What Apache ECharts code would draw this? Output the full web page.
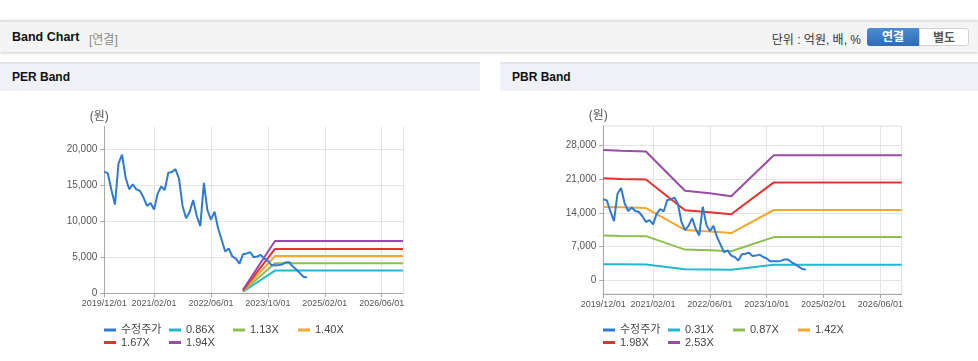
<!DOCTYPE html>
<html><head><meta charset="utf-8">
<script src="https://cdn.jsdelivr.net/npm/echarts@6/dist/echarts.min.js"></script>
<style>
html,body{margin:0;padding:0;background:#fff;width:978px;height:361px;overflow:hidden;font-family:'Liberation Sans','Noto Sans CJK KR',sans-serif;}
#hdr{position:absolute;left:0;top:20px;width:978px;height:30px;background:#f4f4f4;border-top:2px solid #e4e4e4;box-shadow:0 1px 3px rgba(0,0,0,0.22);}
#hdr span{position:absolute;white-space:nowrap;}
.t1{left:12px;top:8px;font-size:12.5px;font-weight:bold;color:#111;}
.t2{left:89px;top:8px;font-size:12px;color:#8a8a8a;}
.unit{right:117px;top:8px;font-size:12px;color:#333;}
.btn{top:6px;height:18px;line-height:18px;text-align:center;font-size:12px;font-weight:bold;box-sizing:border-box;}
.on{left:867px;width:52px;background:linear-gradient(#4c8cd4,#2c6bb5);color:#fff;border-radius:3px 0 0 3px;}
.off{left:919px;width:50px;background:#fff;color:#555;border:1px solid #d2d2d2;border-radius:0 3px 3px 0;}
.panel{position:absolute;top:62px;height:27px;line-height:27px;border-top:2px solid #e1e5ea;background:#eef2f7;font-size:12px;font-weight:bold;color:#111;box-sizing:content-box;}
.panel span{padding-left:12px;}
#chart{position:absolute;left:0;top:0;width:978px;height:361px;z-index:2;}
</style>
</head><body>
<div id="hdr">
  <span class="t1">Band Chart</span><span class="t2">[연결]</span>
  <span class="unit">단위 : 억원, 배, %</span>
  <span class="btn on">연결</span><span class="btn off">별도</span>
</div>
<div class="panel" style="left:0;width:480px"><span>PER Band</span></div>
<div class="panel" style="left:500px;width:478px"><span>PBR Band</span></div>
<div id="chart"></div>
<script>
// ---- data ----
const startYear = 2019, startMonth = 12, monthCount = 85; // 2019/12 .. 2026/12
const categories = [];
for (let i = 0, y = startYear, m = startMonth; i < monthCount; i++) {
  categories.push(y + '/' + String(m).padStart(2, '0') + '/01');
  m++; if (m > 12) { m = 1; y++; }
}
const xTickLabels = ['2019/12/01', '2021/02/01', '2022/06/01', '2023/10/01', '2025/02/01', '2026/06/01'];
const perYTicks = [0, 5000, 10000, 15000, 20000];
const pbrYTicks = [0, 7000, 14000, 21000, 28000];

// 수정주가 (monthly, from 2019/12)
const price = [16850,16600,14300,12300,18000,19200,16000,14400,15100,14400,14200,13300,12100,12500,11600,13800,14800,14300,16700,16800,17200,15900,12100,10400,11300,12900,10700,9300,15300,11500,10200,11300,9000,7400,5800,6200,5100,4800,4100,5400,5500,5700,5000,5100,5300,4800,4500,3900,3900,3900,4000,4300,4300,3700,3300,2800,2300,2200];

// PER band vertices
const perBandDates = ['2023/03/01', '2023/12/01', '2026/12/01'];
const per086 = [220, 3150, 3150];
const per113 = [280, 4170, 4170];
const per140 = [350, 5150, 5150];
const per167 = [420, 6150, 6150];
const per194 = [490, 7250, 7250];

// PBR band vertices
const pbrBandDates = ['2019/12/01', '2020/05/01', '2020/12/01', '2021/11/01', '2022/06/01', '2022/12/01', '2023/12/01', '2026/12/01'];
const pbr031 = [3300, 3280, 3250, 2250, 2200, 2150, 3180, 3180];
const pbr087 = [9300, 9200, 9150, 6350, 6200, 6000, 8950, 8950];
const pbr142 = [15250, 15150, 15000, 10450, 10100, 9800, 14600, 14600];
const pbr198 = [21200, 21050, 20950, 14550, 14150, 13700, 20350, 20350];
const pbr253 = [27100, 26950, 26800, 18600, 18100, 17450, 26000, 26000];

// ---- chart ----
const FONT = "'Liberation Sans','Noto Sans CJK KR',sans-serif";
const C = { price: '#2f7ad3', a: '#22b8d0', b: '#8cbf4e', c: '#f8a62d', d: '#e2342c', e: '#9a4ba7' };
const zip = (dates, vals) => dates.map((d, i) => [d, vals[i]]);
const isLbl = (i, v) => xTickLabels.indexOf(v) >= 0;

function xAx(gi) {
  return {
    type: 'category', gridIndex: gi, data: categories, boundaryGap: false,
    axisLine: { onZero: false, lineStyle: { color: '#a8a8a8', width: 1 } },
    axisTick: { show: true, length: 4, interval: isLbl, lineStyle: { color: '#a8a8a8' } },
    axisLabel: { interval: isLbl, fontSize: 9, color: '#555', margin: 6, fontFamily: FONT },
    splitLine: { show: true, interval: (i, v) => isLbl(i, v) || i === categories.length - 1, lineStyle: { color: '#e4e4e4', width: 1 } }
  };
}
function yAx(gi, min, max, ticks) {
  return {
    type: 'value', gridIndex: gi, min: min, max: max,
    name: '(원)', nameLocation: 'end', nameGap: 4,
    nameTextStyle: { color: '#555', fontSize: 12, align: 'center', padding: [0, 10, 0, 0], fontFamily: FONT },
    axisLine: { show: true, lineStyle: { color: '#a8a8a8' } },
    axisTick: { show: true, length: 4, customValues: ticks, lineStyle: { color: '#a8a8a8' } },
    axisLabel: { customValues: ticks, fontSize: 10, color: '#555', margin: 7, fontFamily: FONT,
      formatter: v => Number(v).toLocaleString('en-US') },
    splitLine: { show: true, lineStyle: { color: '#e4e4e4', width: 1 } }
  };
}
function ln(name, gi, data, color, z) {
  return { name: name, type: 'line', xAxisIndex: gi, yAxisIndex: gi, data: data,
    symbol: 'none', showSymbol: false, connectNulls: true, silent: true,
    lineStyle: { color: color, width: 2 }, itemStyle: { color: color }, z: z };
}
function lg(name, left, top) {
  return { data: [name], left: left, top: top, padding: 0, itemGap: 0, icon: 'rect',
    itemWidth: 12, itemHeight: 3, selectedMode: false,
    textStyle: { fontSize: 11, color: '#444', fontFamily: FONT, lineHeight: 13 } };
}

const option = {
  animation: false,
  backgroundColor: 'transparent',
  textStyle: { fontFamily: FONT },
  grid: [
    { left: 104.3, top: 126.5, width: 298.7, height: 166.8, containLabel: false, outerBoundsMode: 'none' },
    { left: 603.3, top: 126, width: 298.4, height: 168, containLabel: false, outerBoundsMode: 'none',
      show: true, borderColor: '#dcdcdc', borderWidth: 1, backgroundColor: 'transparent' }
  ],
  xAxis: [xAx(0), xAx(1)],
  yAxis: [yAx(0, 0, 23100, perYTicks), yAx(1, -2900, 32100, pbrYTicks)],
  legend: [
    lg('수정주가', 104, 323.5), lg('0.86X', 169, 323.5), lg('1.13X', 233, 323.5), lg('1.40X', 298, 323.5),
    lg('1.67X', 104, 336), lg('1.94X', 169, 336),
    lg('0.31X', 668, 323.5), lg('0.87X', 733, 323.5), lg('1.42X', 798, 323.5),
    lg('1.98X', 603, 336), lg('2.53X', 668, 336),
    { data: ['수정주가'], left: 603, top: 323.5, padding: 0, icon: 'rect', itemWidth: 12, itemHeight: 3, selectedMode: false,
      textStyle: { fontSize: 11, color: '#444', fontFamily: FONT, lineHeight: 13 } }
  ],
  series: [
    ln('0.86X', 0, zip(perBandDates, per086), C.a, 2),
    ln('1.13X', 0, zip(perBandDates, per113), C.b, 2),
    ln('1.40X', 0, zip(perBandDates, per140), C.c, 2),
    ln('1.67X', 0, zip(perBandDates, per167), C.d, 2),
    ln('1.94X', 0, zip(perBandDates, per194), C.e, 2),
    ln('수정주가', 0, price, C.price, 3),
    ln('0.31X', 1, zip(pbrBandDates, pbr031), C.a, 2),
    ln('0.87X', 1, zip(pbrBandDates, pbr087), C.b, 2),
    ln('1.42X', 1, zip(pbrBandDates, pbr142), C.c, 2),
    ln('1.98X', 1, zip(pbrBandDates, pbr198), C.d, 2),
    ln('2.53X', 1, zip(pbrBandDates, pbr253), C.e, 2),
    ln('수정주가', 1, price, C.price, 3)
  ]
};
const chart = echarts.init(document.getElementById('chart'), null, { renderer: 'canvas' });
chart.setOption(option);
</script>
</body></html>
